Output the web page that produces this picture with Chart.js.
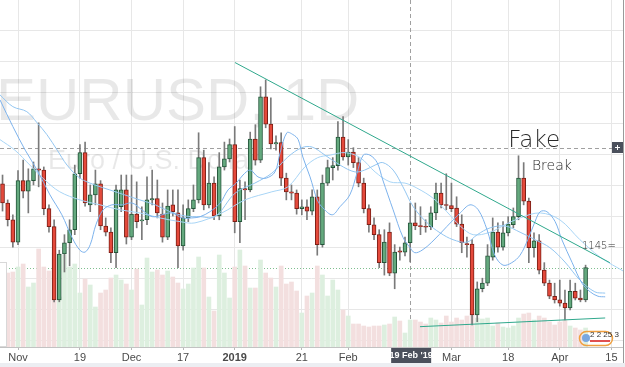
<!DOCTYPE html>
<html>
<head>
<meta charset="utf-8">
<script src="https://cdn.jsdelivr.net/npm/chart.js@4.4.1/dist/chart.umd.min.js"></script>
<style>
  html, body { margin: 0; padding: 0; background: #fff; }
  #wrap { position: relative; width: 625px; height: 367px; }
</style>
</head>
<body>
<div id="wrap"><canvas id="chart"></canvas></div>
<script>
// EURUSD daily, one slot per trading day, bar 0 = 1 Nov 2018
const firstBar = -3;

const opens = [
  1.1403, 1.1372, 1.1345,
  1.1309, 1.1408, 1.1391, 1.1408, 1.1427, 1.1425, 1.1363, 1.1334, 1.1216, 1.1290,
  1.1308, 1.1329, 1.1419, 1.1453, 1.1369, 1.1385, 1.1403, 1.1335, 1.1325, 1.1292,
  1.1366, 1.1393, 1.1317, 1.1354, 1.1343, 1.1345, 1.1377, 1.1379, 1.1354, 1.1317,
  1.1369, 1.1356, 1.1303, 1.1348, 1.1363, 1.1377, 1.1445, 1.1369, 1.1404, 1.1351,
  1.1430, 1.1443, 1.1466, 1.1342, 1.1395, 1.1393, 1.1475, 1.1441, 1.1543, 1.1499,
  1.1467, 1.1469, 1.1412, 1.1390, 1.1388, 1.1363, 1.1366, 1.1359, 1.1382, 1.1305,
  1.1404, 1.1429, 1.1432, 1.1478, 1.1446, 1.1454, 1.1437, 1.1404, 1.1363, 1.1337,
  1.1321, 1.1276, 1.1325, 1.1259, 1.1295, 1.1293, 1.1308, 1.1340, 1.1335, 1.1334,
  1.1334, 1.1356, 1.1388, 1.1369, 1.1368, 1.1364, 1.1338, 1.1306, 1.1306, 1.1192,
  1.1234, 1.1243, 1.1285, 1.1325, 1.1301, 1.1324, 1.1337, 1.1350, 1.1412, 1.1375,
  1.1300, 1.1311, 1.1264, 1.1243, 1.1222, 1.1216, 1.1211, 1.1203, 1.1230, 1.1219, 1.1216
];
const highs = [
  1.1417, 1.1377, 1.1353,
  1.1424, 1.1441, 1.1427, 1.1438, 1.1501, 1.1430, 1.1369, 1.1345, 1.1296, 1.1321,
  1.1345, 1.1433, 1.1466, 1.1470, 1.1401, 1.1425, 1.1408, 1.1348, 1.1332, 1.1401,
  1.1417, 1.1417, 1.1417, 1.1406, 1.1366, 1.1414, 1.1425, 1.1409, 1.1372, 1.1393,
  1.1393, 1.1393, 1.1369, 1.1377, 1.1401, 1.1485, 1.1457, 1.1437, 1.1414, 1.1453,
  1.1470, 1.1475, 1.1495, 1.1409, 1.1406, 1.1486, 1.1498, 1.1559, 1.1570, 1.1541,
  1.1480, 1.1485, 1.1420, 1.1401, 1.1393, 1.1377, 1.1377, 1.1393, 1.1393, 1.1417,
  1.1441, 1.1445, 1.1503, 1.1511, 1.1474, 1.1461, 1.1445, 1.1412, 1.1369, 1.1348,
  1.1329, 1.1329, 1.1340, 1.1305, 1.1301, 1.1317, 1.1372, 1.1372, 1.1366, 1.1345,
  1.1366, 1.1404, 1.1404, 1.1419, 1.1404, 1.1382, 1.1353, 1.1317, 1.1313, 1.1245,
  1.1251, 1.1305, 1.1348, 1.1340, 1.1342, 1.1350, 1.1364, 1.1448, 1.1437, 1.1380,
  1.1324, 1.1321, 1.1276, 1.1248, 1.1243, 1.1248, 1.1232, 1.1248, 1.1243, 1.1232, 1.1272
];
const lows = [
  1.1359, 1.1335, 1.1301,
  1.1305, 1.1380, 1.1356, 1.1401, 1.1398, 1.1353, 1.1325, 1.1213, 1.1213, 1.1261,
  1.1271, 1.1321, 1.1412, 1.1367, 1.1358, 1.1369, 1.1329, 1.1319, 1.1276, 1.1268,
  1.1358, 1.1306, 1.1313, 1.1332, 1.1313, 1.1337, 1.1369, 1.1348, 1.1309, 1.1313,
  1.1351, 1.1268, 1.1296, 1.1342, 1.1358, 1.1372, 1.1361, 1.1364, 1.1345, 1.1345,
  1.1425, 1.1438, 1.1324, 1.1308, 1.1345, 1.1390, 1.1433, 1.1437, 1.1493, 1.1459,
  1.1457, 1.1400, 1.1377, 1.1377, 1.1354, 1.1353, 1.1345, 1.1353, 1.1288, 1.1301,
  1.1400, 1.1409, 1.1425, 1.1441, 1.1433, 1.1429, 1.1398, 1.1356, 1.1325, 1.1313,
  1.1268, 1.1256, 1.1255, 1.1234, 1.1280, 1.1287, 1.1277, 1.1329, 1.1321, 1.1325,
  1.1329, 1.1345, 1.1364, 1.1361, 1.1358, 1.1334, 1.1292, 1.1285, 1.1176, 1.1181,
  1.1229, 1.1239, 1.1280, 1.1293, 1.1296, 1.1319, 1.1332, 1.1345, 1.1369, 1.1276,
  1.1285, 1.1258, 1.1239, 1.1218, 1.1211, 1.1206, 1.1184, 1.1200, 1.1216, 1.1213, 1.1213
];
const closes = [
  1.1372, 1.1345, 1.1309,
  1.1408, 1.1391, 1.1408, 1.1427, 1.1425, 1.1363, 1.1334, 1.1216, 1.1290, 1.1308,
  1.1329, 1.1419, 1.1453, 1.1372, 1.1385, 1.1403, 1.1335, 1.1325, 1.1292, 1.1393,
  1.1393, 1.1317, 1.1354, 1.1342, 1.1345, 1.1377, 1.1379, 1.1356, 1.1317, 1.1367,
  1.1358, 1.1303, 1.1348, 1.1363, 1.1377, 1.1445, 1.1369, 1.1404, 1.1351, 1.1430,
  1.1443, 1.1466, 1.1342, 1.1395, 1.1393, 1.1475, 1.1441, 1.1543, 1.1499, 1.1467,
  1.1469, 1.1412, 1.1390, 1.1388, 1.1363, 1.1366, 1.1359, 1.1382, 1.1305, 1.1404,
  1.1429, 1.1432, 1.1478, 1.1446, 1.1454, 1.1437, 1.1404, 1.1363, 1.1337, 1.1321,
  1.1276, 1.1309, 1.1259, 1.1293, 1.1293, 1.1308, 1.1340, 1.1335, 1.1334, 1.1333,
  1.1356, 1.1388, 1.1369, 1.1368, 1.1363, 1.1338, 1.1308, 1.1305, 1.1192, 1.1234,
  1.1243, 1.1287, 1.1325, 1.1301, 1.1324, 1.1338, 1.1350, 1.1412, 1.1375, 1.1300,
  1.1311, 1.1264, 1.1243, 1.1222, 1.1216, 1.1211, 1.1203, 1.1230, 1.1219, 1.1216, 1.1268
];
// tick volume, thousands
const volumes = [
  77, 74, 75,
  80, 83, 60, 64, 98, 80, 76, 94, 50, 92,
  80, 83, 54, 68, 62, 40, 54, 57, 69, 72,
  67, 63, 57, 78, 42, 89, 75, 77, 72, 76,
  70, 64, 58, 63, 79, 90, 79, 50, 36, 92,
  74, 49, 80, 97, 81, 59, 59, 87, 74, 69,
  60, 81, 63, 65, 56, 34, 51, 54, 81, 72,
  51, 67, 57, 37, 31, 23, 23, 21, 20, 21,
  21, 22, 23, 30, 26, 14, 27, 27, 25, 23,
  29, 27, 24, 31, 25, 29, 27, 31, 34, 29,
  28, 29, 21, 24, 20, 19, 21, 29, 33, 34,
  27, 31, 29, 25, 22, 25, 27, 21, 19, 17, 19
];

const tickBars = [0, 12, 22, 32, 42, 55, 64, 84, 95, 105, 115];
const tickLabels = ['Nov', '19', 'Dec', '17', '2019', '21', 'Feb', 'Mar', '18', 'Apr', '15'];
const priceLevels = [1.115, 1.12, 1.125, 1.13, 1.135, 1.14, 1.145, 1.15, 1.155, 1.16, 1.165];

// overlay lines, [bar, price]
const fastLine = [
  [-3.5, 1.1538], [-1, 1.1495], [1.4, 1.1457], [3.7, 1.1425], [6.2, 1.1385], [8.5, 1.1353],
  [10.5, 1.1316], [12, 1.1296], [13, 1.1293], [14, 1.1305], [15.1, 1.1337], [16.5, 1.1361],
  [18.2, 1.1369], [20.2, 1.1369], [22.1, 1.1372], [24, 1.1361], [26, 1.1350], [27.9, 1.1353],
  [29.8, 1.1356], [31.8, 1.1348], [33.7, 1.1348], [35.3, 1.1350], [37.2, 1.1358], [39.2, 1.1372],
  [40.7, 1.1393], [42.3, 1.1404], [43.6, 1.1417], [45, 1.1425], [46.5, 1.1414], [48.1, 1.1412],
  [49.8, 1.1422], [50.8, 1.1453], [52.1, 1.1485], [53.3, 1.1482], [54.3, 1.1474], [55.2, 1.1446],
  [56.6, 1.1414], [58, 1.1377], [59.1, 1.1364], [60.9, 1.1353], [62.4, 1.1366], [64.3, 1.1385],
  [65.7, 1.1420], [66.9, 1.1449], [68.2, 1.1449], [69.6, 1.1437], [70.7, 1.1409], [72.7, 1.1361],
  [74.6, 1.1317], [76, 1.1300], [76.9, 1.1292], [78.3, 1.1296], [80.2, 1.1309], [83.1, 1.1334],
  [85.7, 1.1356], [87.6, 1.1369], [89.2, 1.1361], [90.9, 1.1329], [92.4, 1.1288], [94, 1.1272],
  [95.7, 1.1276], [97.3, 1.1288], [98.8, 1.1313], [100.2, 1.1342], [101.2, 1.1358], [102.5, 1.1358],
  [104.1, 1.1342], [105.4, 1.1313], [107.4, 1.1276], [109.3, 1.1243], [110.9, 1.1229],
  [112.4, 1.1222], [113.8, 1.1221]
];
const midLine = [
  [-3.5, 1.1546], [-1, 1.1527], [1.7, 1.1519], [3.7, 1.1501], [5.6, 1.1482], [7.6, 1.1457],
  [9.5, 1.1433], [12, 1.1412], [14.9, 1.1401], [17.8, 1.1393], [20.7, 1.1385], [23.6, 1.1377],
  [26.6, 1.1369], [29.5, 1.1358], [32.4, 1.1351], [35.3, 1.1350], [38.2, 1.1350], [42.1, 1.1388],
  [45.9, 1.1404], [49.2, 1.1420], [52.3, 1.1446], [55, 1.1461], [57, 1.1462], [59.5, 1.1449],
  [62.4, 1.1433], [65.3, 1.1422], [67.2, 1.1425], [69.2, 1.1433], [70.7, 1.1437], [72.7, 1.1425],
  [74.6, 1.1398], [76.6, 1.1366], [79.3, 1.1340], [81.8, 1.1324], [84.3, 1.1313], [87, 1.1309],
  [89, 1.1321], [91.5, 1.1332], [94.4, 1.1335], [97.3, 1.1325], [100.2, 1.1313], [103.1, 1.1300],
  [106, 1.1277], [108.9, 1.1248], [111.8, 1.1229], [113.8, 1.1227]
];
const slowLine = [
  [-3.5, 1.1474], [-0.6, 1.1457], [2.3, 1.1433], [5.2, 1.1409], [8.1, 1.1390], [12, 1.1377],
  [15.9, 1.1369], [19.8, 1.1361], [23.6, 1.1356], [27.5, 1.1348], [31.4, 1.1342], [34.3, 1.1340],
  [39.5, 1.1356], [44, 1.1377], [49.2, 1.1390], [52.3, 1.1398], [55.6, 1.1430], [58.1, 1.1445],
  [60.5, 1.1449], [63.4, 1.1453], [66.3, 1.1445], [69.2, 1.1422], [72.1, 1.1406], [75, 1.1404],
  [77.3, 1.1396], [80.4, 1.1380], [83.1, 1.1358], [85.7, 1.1335], [88.2, 1.1321], [91.5, 1.1325],
  [94.4, 1.1337], [97.3, 1.1348], [101.2, 1.1356], [105, 1.1345], [108.9, 1.1313],
  [112.8, 1.1285], [117.6, 1.1261]
];
// hand-drawn trend lines
const resistanceLine = [[42.05, 1.1598], [114.7, 1.1276]];
const supportLine = [[77.9, 1.1173], [113.8, 1.1187]];

const crossBar = 76;
const crossPrice = 1.1461;

const bars = opens.map((o, k) => firstBar + k);
const isUp = k => closes[k] >= opens[k];
const pts = arr => arr.map(p => ({ x: p[0], y: p[1] }));

const labelFor = {};
tickBars.forEach((b, k) => { labelFor[b] = tickLabels[k]; });

const FONT = "'Liberation Sans', Arial, sans-serif";
const HAND = "'DejaVu Sans', sans-serif";

const decor = {
  id: 'decor',
  beforeDatasetsDraw(chart) {
    const { ctx, chartArea: a, scales } = chart;
    ctx.save();
    ctx.beginPath();
    ctx.rect(a.left, a.top, a.right - a.left, a.bottom - a.top);
    ctx.clip();
    // symbol watermark
    ctx.fillStyle = 'rgba(0,0,0,0.09)';
    ctx.textBaseline = 'alphabetic';
    ctx.font = '60px ' + FONT;
    ctx.fillText('EURUSD, 1D', -4, 120);
    ctx.font = '27px ' + FONT;
    ctx.fillText('Euro / U.S. Dollar', 48, 169);
    // last price line
    const ly = Math.round(scales.y.getPixelForValue(closes[closes.length - 1])) + 0.5;
    ctx.strokeStyle = '#7fbf8f';
    ctx.setLineDash([1, 2]);
    ctx.lineWidth = 1;
    ctx.beginPath();
    ctx.moveTo(a.left, ly);
    ctx.lineTo(a.right, ly);
    ctx.stroke();
    // crosshair
    ctx.strokeStyle = '#a0a0a0';
    ctx.setLineDash([4, 3]);
    const cx = Math.round(scales.x.getPixelForValue(crossBar)) + 0.5;
    const cy = Math.round(scales.y.getPixelForValue(crossPrice)) + 0.5;
    ctx.beginPath();
    ctx.moveTo(cx, a.top);
    ctx.lineTo(cx, a.bottom);
    ctx.moveTo(a.left, cy);
    ctx.lineTo(a.right, cy);
    ctx.stroke();
    ctx.restore();
  },
  afterDraw(chart) {
    const { ctx, chartArea: a, scales } = chart;
    const x = scales.x, y = scales.y;
    ctx.save();
    // hand-written notes
    ctx.fillStyle = '#2a2a2a';
    ctx.textBaseline = 'alphabetic';
    ctx.font = '200 23px ' + HAND;
    ctx.fillText('Fake', x.getPixelForValue(95), y.getPixelForValue(1.1462));
    ctx.font = '200 14px ' + HAND;
    ctx.fillText('Break', x.getPixelForValue(99.6), y.getPixelForValue(1.1425));
    ctx.font = '200 10px ' + HAND;
    ctx.fillText('1145=', x.getPixelForValue(109.3), y.getPixelForValue(1.1298));

    // crosshair price button
    const cy = Math.round(y.getPixelForValue(crossPrice));
    ctx.fillStyle = '#4b505c';
    ctx.fillRect(a.right - 11, cy - 6, 11, 11);
    ctx.strokeStyle = '#fff';
    ctx.lineWidth = 1;
    ctx.beginPath();
    ctx.moveTo(a.right - 8, cy - 0.5);
    ctx.lineTo(a.right - 3, cy - 0.5);
    ctx.moveTo(a.right - 5.5, cy - 3);
    ctx.lineTo(a.right - 5.5, cy + 2);
    ctx.stroke();

    // crosshair date label
    const cx = x.getPixelForValue(crossBar);
    ctx.fillStyle = '#4b505c';
    ctx.fillRect(cx - 19, a.bottom + 1, 40, 15);
    ctx.fillStyle = '#fff';
    ctx.font = 'bold 9px ' + FONT;
    ctx.textAlign = 'center';
    ctx.textBaseline = 'middle';
    ctx.fillText("19 Feb '19", cx + 1, a.bottom + 9);

    // broker badge
    ctx.textAlign = 'left';
    ctx.strokeStyle = '#f0a040';
    ctx.lineWidth = 1.5;
    ctx.beginPath();
    ctx.roundRect(579.5, 331.5, 33, 14, 7);
    ctx.stroke();
    ctx.fillStyle = '#7aa7e0';
    ctx.beginPath();
    ctx.arc(586, 338, 4, 0, Math.PI * 2);
    ctx.fill();
    ctx.fillStyle = '#333';
    ctx.font = '8px ' + FONT;
    ctx.fillText('2 2 25 3', 590, 335);
    ctx.fillStyle = '#e05050';
    ctx.fillRect(590, 340, 20, 2);

    // collapsed legend box on the left
    ctx.fillStyle = '#fff';
    ctx.fillRect(0, 262, 7, 85);
    ctx.strokeStyle = '#d8d8d8';
    ctx.lineWidth = 1;
    ctx.strokeRect(-1, 262.5, 7.5, 84);

    // pane border and scroll strip
    ctx.strokeStyle = '#9a9a9a';
    ctx.beginPath();
    ctx.moveTo(a.right + 0.5, 0);
    ctx.lineTo(a.right + 0.5, 367);
    ctx.stroke();
    ctx.fillStyle = '#eceef2';
    ctx.fillRect(0, 363, 625, 4);
    ctx.restore();
  }
};

new Chart(document.getElementById('chart'), {
  type: 'bar',
  data: {
    datasets: [
      {
        type: 'line', label: 'Resistance', data: pts(resistanceLine), yAxisID: 'y',
        borderColor: '#2fa88c', borderWidth: 1, pointRadius: 0, order: 0
      },
      {
        type: 'line', label: 'Support', data: pts(supportLine), yAxisID: 'y',
        borderColor: '#2fa88c', borderWidth: 1, pointRadius: 0, order: 0
      },
      {
        type: 'line', label: 'Fast', data: pts(fastLine), yAxisID: 'y',
        borderColor: '#7cb2ec', borderWidth: 1, pointRadius: 0, tension: 0.35, order: 1
      },
      {
        type: 'line', label: 'Mid', data: pts(midLine), yAxisID: 'y',
        borderColor: '#93c6f1', borderWidth: 1, pointRadius: 0, tension: 0.35, order: 1
      },
      {
        type: 'line', label: 'Slow', data: pts(slowLine), yAxisID: 'y',
        borderColor: '#a8d5f6', borderWidth: 1, pointRadius: 0, tension: 0.35, order: 1
      },
      {
        label: 'Body', yAxisID: 'y', order: 2,
        data: bars.map((b, k) => ({ x: b, y: [opens[k], closes[k]] })),
        backgroundColor: bars.map((b, k) => isUp(k) ? '#64a97e' : '#e4493b'),
        borderColor: bars.map((b, k) => isUp(k) ? '#24553a' : '#7c1f16'),
        borderWidth: 1, borderSkipped: false, barThickness: 4, minBarLength: 1, grouped: false
      },
      {
        label: 'Wick', yAxisID: 'y', order: 3,
        data: bars.map((b, k) => ({ x: b, y: [lows[k], highs[k]] })),
        backgroundColor: '#7a7a7a', barThickness: 1, grouped: false
      },
      {
        label: 'Volume', yAxisID: 'yVol', order: 4,
        data: bars.map((b, k) => ({ x: b, y: volumes[k] })),
        backgroundColor: bars.map((b, k) => isUp(k) ? '#ddefdf' : '#f3dfdf'),
        barThickness: 4, grouped: false
      }
    ]
  },
  options: {
    responsive: true,
    maintainAspectRatio: false,
    animation: false,
    layout: { padding: { left: 0, right: 2, top: 0, bottom: 0 } },
    plugins: { legend: { display: false }, tooltip: { enabled: false } },
    scales: {
      x: {
        type: 'linear', min: -3.49, max: 117.25, offset: false,
        grid: { color: '#e7e7e7', offset: false, tickLength: 3, tickColor: '#b8b8b8' },
        border: { color: '#c2c2c2' },
        ticks: {
          autoSkip: false, maxRotation: 0, padding: 1, color: '#4a4a4a',
          font: c => ({ family: FONT, size: 11, weight: c.tick && c.tick.label === '2019' ? 'bold' : 'normal' }),
          callback: v => labelFor[v] || ''
        },
        afterBuildTicks: s => { s.ticks = tickBars.map(v => ({ value: v })); },
        afterFit: s => { s.height = 20; }
      },
      y: {
        type: 'linear', position: 'left', min: 1.11403, max: 1.16986,
        grid: { color: '#e7e7e7', drawTicks: false },
        border: { display: false },
        ticks: { display: false },
        afterBuildTicks: s => { s.ticks = priceLevels.map(v => ({ value: v })); },
        afterFit: s => { s.width = 0; }
      },
      yVol: {
        type: 'linear', display: false, min: 0, max: 347
      }
    }
  },
  plugins: [decor]
});
</script>
</body>
</html>
